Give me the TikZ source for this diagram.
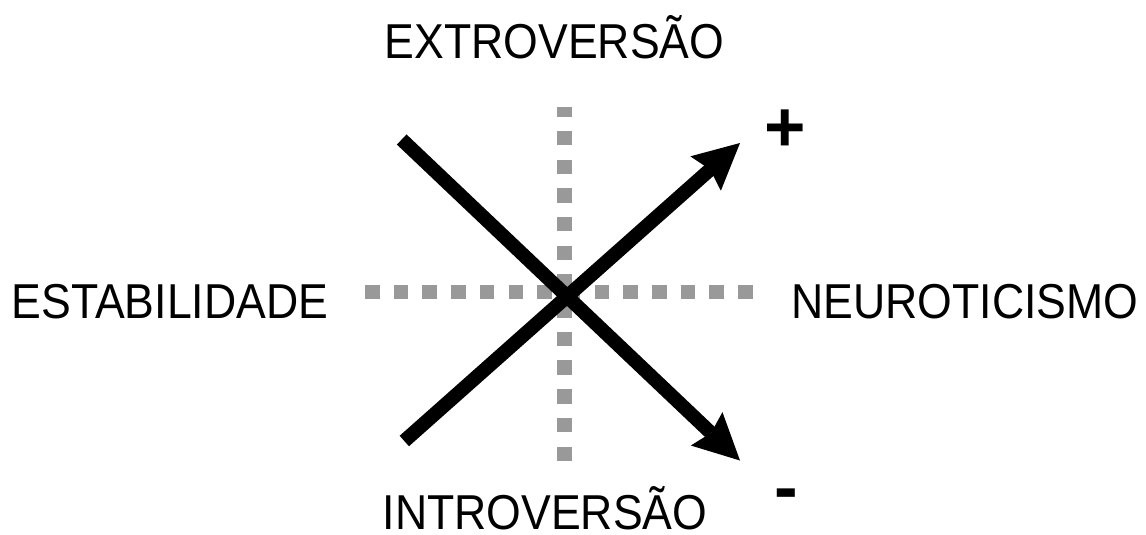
\documentclass[tikz,border=0pt]{standalone}
\usepackage{fontspec}
\setmainfont{Liberation Sans}
\newfontfamily\lblfont[FakeStretch=0.91]{Liberation Sans}
\usetikzlibrary{arrows.meta}
\definecolor{dotgray}{RGB}{153,153,153}
\begin{document}
\begin{tikzpicture}[x=1pt,y=-1pt,
  lbl/.style={inner sep=0pt, anchor=base, text depth=0pt, font=\lblfont\fontsize{49}{55}\selectfont},
  sign/.style={inner sep=0pt, anchor=center, font=\bfseries\fontsize{71}{80}\selectfont},
  axisline/.style={draw=dotgray, line width=14.5pt, dash pattern=on 14.5pt off 14.2pt},
  trait/.style={draw=black, line width=14pt,
    -{Stealth[length=46pt,width=46pt,inset=6pt,line width=0pt]}}]
\useasboundingbox (0,0) rectangle (1146,535);
% dotted axes
\coordinate (vtop) at (564.5,107);
\coordinate (vbot) at (564.5,461);
\coordinate (hl) at (365,292);
\coordinate (hr) at (752.5,292);
\draw[axisline] (vbot) -- (vtop);
\draw[axisline] (hl) -- (hr);
% arrows
\coordinate (upS) at (404.3,441);
\coordinate (upE) at (740,143);
\coordinate (dnS) at (401.7,139.5);
\coordinate (dnE) at (740,460.5);
\draw[trait] (upS) -- (upE);
\draw[trait] (dnS) -- (dnE);
% labels
\node[lbl] (extro) at (554.5,59) {EXTROVERSÃO};
\node[lbl] (intro) at (545,529) {INTROVERSÃO};
\node[lbl] (estab) at (170,318) {ESTABILIDADE};
\node[lbl] (neuro) at (965,318) {NEUROTICISMO};
\node[sign] (plus) at (785.5,130.5) {+};
\node[sign] (minus) at (786,500) {-};
\end{tikzpicture}
\end{document}
